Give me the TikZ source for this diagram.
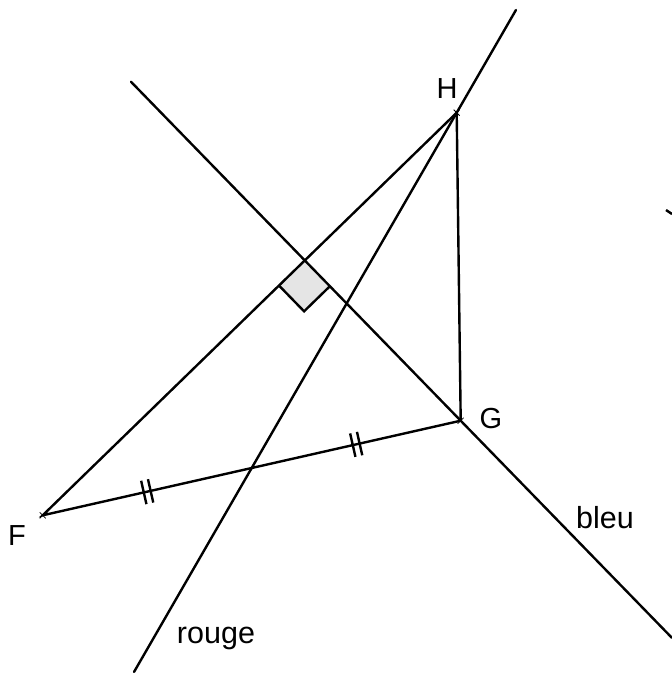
\documentclass[tikz,border=0pt]{standalone}
\usepackage{fontspec}
\setmainfont{Liberation Sans}
\usetikzlibrary{calc}
\begin{document}
\begin{tikzpicture}[x=1pt,y=-1pt,
  ln/.style={line width=2.4pt,line cap=round},
  tick/.style={line width=2.4pt},
  lbl/.style={font=\fontsize{29}{29}\selectfont,inner sep=0pt},
  lblb/.style={font=\fontsize{30.5}{30.5}\selectfont,inner sep=0pt}]
\useasboundingbox (0,0) rectangle (672,675);
% points
\coordinate (F) at (42.7,515.3);
\coordinate (G) at (460.7,420.7);
\coordinate (H) at (456.7,112.7);
\coordinate (M) at ($(F)!0.5!(G)$);
\coordinate (K) at ($(F)!(G)!(H)$);
% line ends
\coordinate (r1) at ($(M)!1.289!(H)$);
\coordinate (r2) at ($(M)!-0.574!(H)$);
\coordinate (b1) at ($(K)!-1.115!(G)$);
\coordinate (b2) at ($(K)!2.355!(G)$);
% right angle square
\coordinate (sa) at ($(K)!36pt!(F)$);
\coordinate (sb) at ($(K)!36pt!(G)$);
\fill[gray!20] (K) -- (sa) -- ($(sa)+(sb)-(K)$) -- (sb) -- cycle;
\draw[line width=2.4pt,line join=miter] (sa) -- ($(sa)+(sb)-(K)$) -- (sb);
% triangle
\draw[ln] (F) -- (G) -- (H) -- cycle;
% lines
\draw[ln] (r1) -- (r2);
\begin{scope}
\clip (0,0) rectangle (672,675);
\draw[ln] (b1) -- (b2);
\end{scope}
% ticks on FG
\foreach \t in {0.25,0.75}{
  \foreach \d in {-3.5,3.5}{
    \coordinate (c) at ($(F)!\t!(G)$);
    \coordinate (cc) at ($(c)!\d pt!(G)$);
    \draw[tick] ($(cc)!12pt!90:(G)$) -- ($(cc)!12pt!-90:(G)$);
  }
}
% point crosses
\foreach \p in {F,G,H}{
  \draw[line width=0.8pt] ($(\p)+(-3,-3)$) -- ($(\p)+(3,3)$);
  \draw[line width=0.8pt] ($(\p)+(-3,3)$) -- ($(\p)+(3,-3)$);
}
% stray mark on the right
\draw[line width=2.4pt] (666,210) -- (672,214);
% labels
\node[lbl] (lH) at (447,89) {H};
\node[lbl] (lG) at (491,419) {G};
\node[lbl] (lF) at (17,536) {F};
\node[lblb] (lb) at (605,518) {bleu};
\node[lblb] (lr) at (216,638) {rouge};
\end{tikzpicture}
\end{document}
